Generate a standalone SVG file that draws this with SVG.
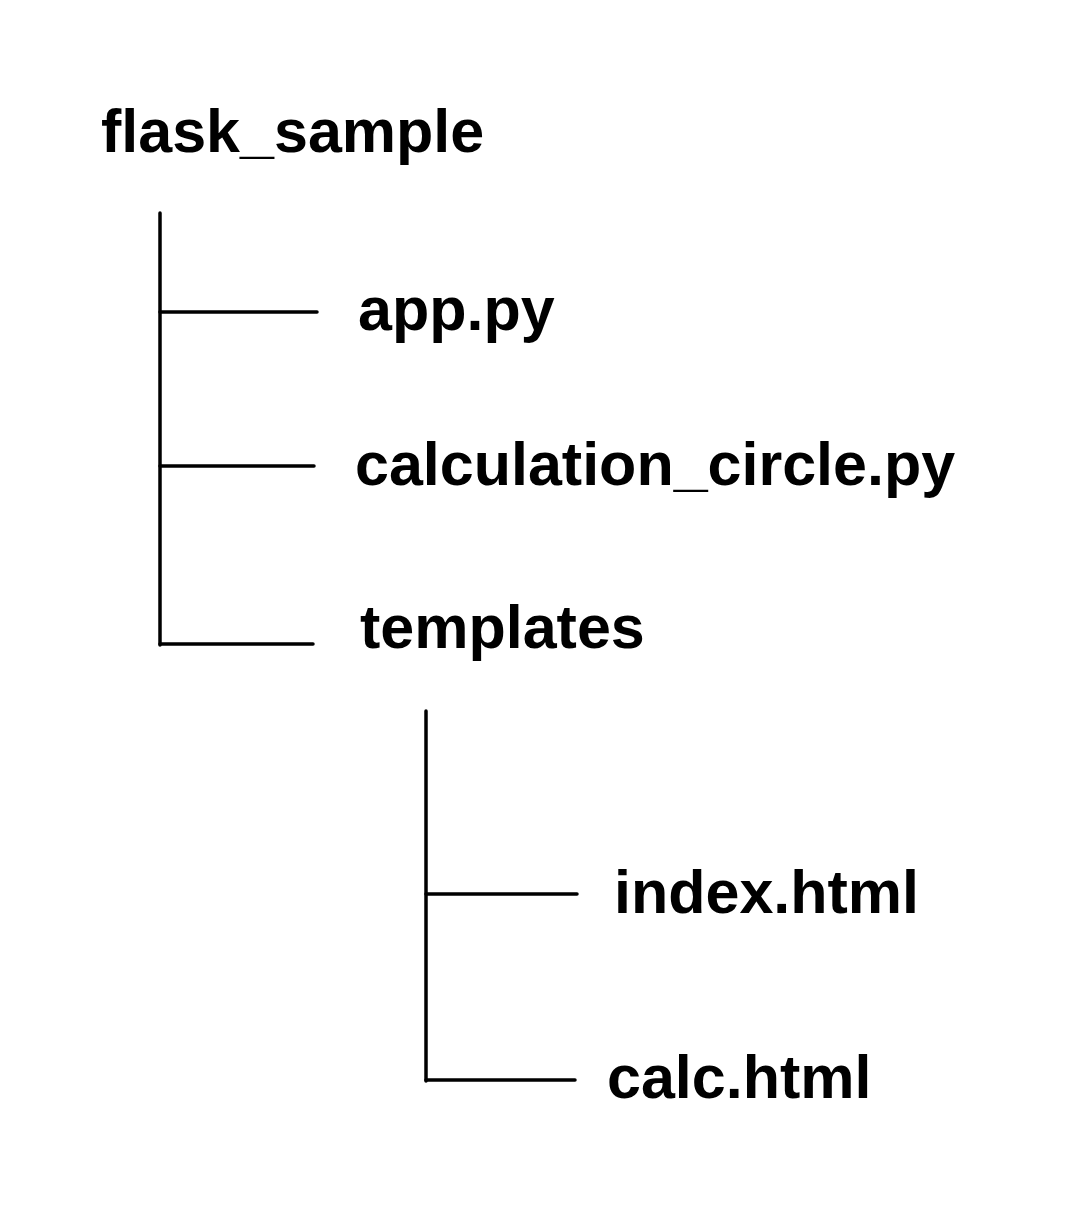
<svg xmlns="http://www.w3.org/2000/svg" width="1069" height="1216" viewBox="0 0 1069 1216">
<style>
.t{font-family:"Liberation Sans",Arial,sans-serif;font-weight:bold;font-size:61px;fill:#000}
.c line{stroke:#000;stroke-width:3.5;stroke-linecap:round}
</style>
<rect width="1069" height="1216" fill="#fff"/>
<g id="connectors" class="c">
<line x1="160" y1="213" x2="160" y2="645"/>
<line x1="160" y1="312" x2="317" y2="312"/>
<line x1="160" y1="466" x2="314" y2="466"/>
<line x1="160" y1="644" x2="313" y2="644"/>
<line x1="426" y1="711" x2="426" y2="1081"/>
<line x1="426" y1="894" x2="577" y2="894"/>
<line x1="426" y1="1080" x2="575" y2="1080"/>
</g>
<g id="flask_sample"><text class="t" x="101" y="152">flask_sample</text></g>
<g id="app_py"><text class="t" x="358" y="330">app.py</text></g>
<g id="calculation_circle_py"><text class="t" x="355" y="485">calculation_circle.py</text></g>
<g id="templates"><text class="t" x="360" y="648">templates</text></g>
<g id="index_html"><text class="t" x="614" y="913">index.html</text></g>
<g id="calc_html"><text class="t" x="607" y="1098">calc.html</text></g>
</svg>
